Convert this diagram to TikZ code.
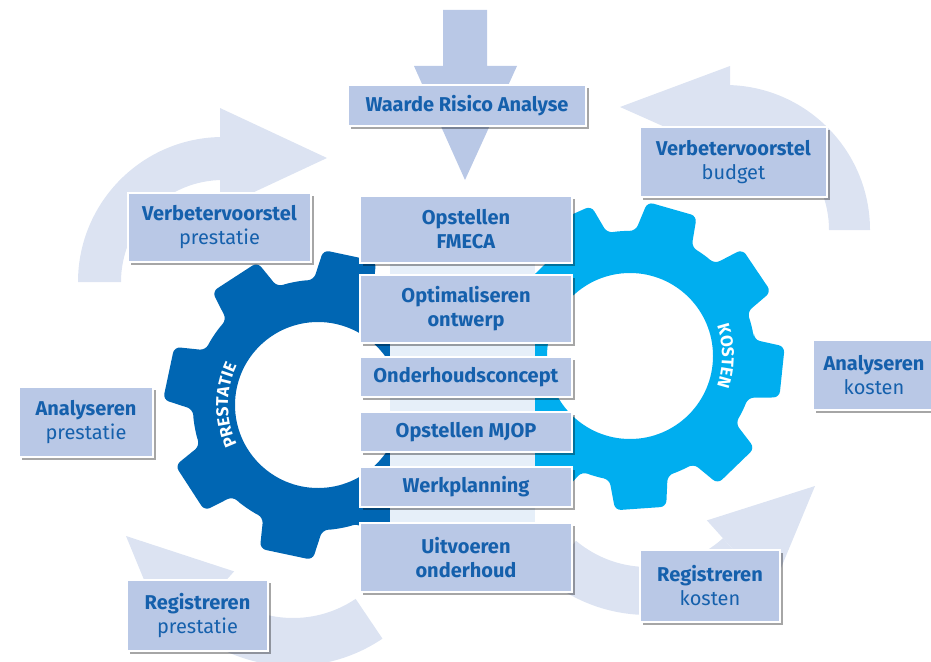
\documentclass[tikz,border=0pt]{standalone}
\usepackage{fontspec}
\setmainfont{Fira Sans}
\usetikzlibrary{shadows,decorations.text,calc}
\definecolor{boxfill}{HTML}{B9C8E6}
\definecolor{arrowfill}{HTML}{DCE3F2}
\definecolor{txt}{HTML}{1560AC}
\definecolor{gearA}{HTML}{0066B3}
\definecolor{gearB}{HTML}{00AEEF}
\definecolor{colfill}{HTML}{E6EFF9}
\begin{document}
\begin{tikzpicture}[x=1pt,y=-1pt,
  box/.style={fill=boxfill, draw=white, line width=1.5pt,
    drop shadow={shadow xshift=2.5pt, shadow yshift=-2.5pt, fill=black, opacity=0.35},
    text=txt, align=center, inner sep=0pt, font=\fontsize{20}{24}\selectfont},
  band/.style={fill=arrowfill}
  ]
\useasboundingbox (0,0) rectangle (931,661);

% curved arrows
\coordinate (cTL) at (223,282);
\coordinate (cTR) at (725,230);
\coordinate (cBR) at (648,455);
\coordinate (cBL) at (293,506);
\fill[band] ($(cTL)+(180:145)$) arc[start angle=180,end angle=270,radius=145]
  -- ($(cTL)+(270:102)$) arc[start angle=270,end angle=180,radius=102] -- cycle;
\fill[band] (220,108) -- (327,158) -- (220,208) -- cycle;
\fill[band] ($(cTR)+(270:145)$) arc[start angle=270,end angle=360,radius=145]
  -- ($(cTR)+(0:104)$) arc[start angle=360,end angle=270,radius=104] -- cycle;
\fill[band] (730,66) -- (620,107) -- (730,156) -- cycle;
\fill[band] ($(cBR)+(130:160)$) arc[start angle=130,end angle=48,radius=160]
  -- ($(cBR)+(48:112)$) arc[start angle=48,end angle=130,radius=112] -- cycle;
\fill[band] ($(cBR)+(48:88)$) -- (815,486) -- ($(cBR)+(48:184)$) -- cycle;
\fill[band] ($(cBL)+(56:160)$) arc[start angle=56,end angle=132,radius=160]
  -- ($(cBL)+(132:112)$) arc[start angle=132,end angle=56,radius=112] -- cycle;
\fill[band] ($(cBL)+(132:88)$) -- (126,536) -- ($(cBL)+(132:184)$) -- cycle;

% gears
\begin{scope}[shift={(318,405)}]
\fill[gearA, rounded corners=6pt, even odd rule] (-2:125)
  \foreach \a in {12,57,...,327}{ -- (\a-10:155) -- (\a+10:155) -- (\a+14:125)
    arc[start angle=\a+14, end angle=\a+31, radius=125]} -- cycle
  (0,0) circle[radius=83];
\end{scope}
\begin{scope}[shift={(630,356)}]
\fill[gearB, rounded corners=6pt, even odd rule] (-7.5:125)
  \foreach \a in {6,46,...,326}{ -- (\a-9.5:155) -- (\a+9.5:155) -- (\a+13.5:125)
    arc[start angle=\a+13.5, end angle=\a+26.5, radius=125]} -- cycle
  (0,0) circle[radius=83];
\end{scope}
\path[decorate, decoration={text along path, text align=center,
   text={|\fontsize{17}{17}\selectfont\bfseries\color{white}|PRESTATIE}}]
   ($(318,405)+(145:90)$) arc[start angle=145,end angle=215,radius=90];
\path[decorate, decoration={text along path, text align=center,
   text={|\fontsize{17}{17}\selectfont\bfseries\color{white}|KOSTEN}}]
   ($(630,356)+(-35:92)$) arc[start angle=-35,end angle=35,radius=92];

% central column
\fill[colfill] (390,197) rectangle (535,590);

% top arrow
\fill[boxfill] (443,10) -- (487,10) -- (487,66) -- (517,66) -- (465,180)
  -- (414,66) -- (443,66) -- cycle;

% boxes
\node[box, minimum width=238pt, minimum height=41pt] (wra) at (467,105.5) {\textbf{Waarde Risico Analyse}};
\node[box, minimum width=212pt, minimum height=67pt] (fmeca) at (466,229.5) {\textbf{Opstellen}\\\textbf{FMECA}};
\node[box, minimum width=212pt, minimum height=68pt] (opt) at (466,309) {\textbf{Optimaliseren}\\\textbf{ontwerp}};
\node[box, minimum width=212pt, minimum height=40pt] (ohc) at (466,377) {\textbf{Onderhoudsconcept}};
\node[box, minimum width=212pt, minimum height=40pt] (mjop) at (466,432) {\textbf{Opstellen MJOP}};
\node[box, minimum width=212pt, minimum height=40pt] (werk) at (466,487) {\textbf{Werkplanning}};
\node[box, minimum width=212pt, minimum height=69pt] (uitv) at (466,557.5) {\textbf{Uitvoeren}\\\textbf{onderhoud}};
\node[box, minimum width=183pt, minimum height=69pt] (vvp) at (219.5,227.5) {\textbf{Verbetervoorstel}\\prestatie};
\node[box, minimum width=187pt, minimum height=70pt] (vvb) at (733.5,162) {\textbf{Verbetervoorstel}\\budget};
\node[box, minimum width=134pt, minimum height=70pt] (anp) at (86,422) {\textbf{Analyseren}\\prestatie};
\node[box, minimum width=122pt, minimum height=70pt] (ank) at (874,375) {\textbf{Analyseren}\\kosten};
\node[box, minimum width=141pt, minimum height=71pt] (rgp) at (197.5,615.5) {\textbf{Registreren}\\prestatie};
\node[box, minimum width=140pt, minimum height=72pt] (rgk) at (710,586) {\textbf{Registreren}\\kosten};
\end{tikzpicture}
\end{document}
